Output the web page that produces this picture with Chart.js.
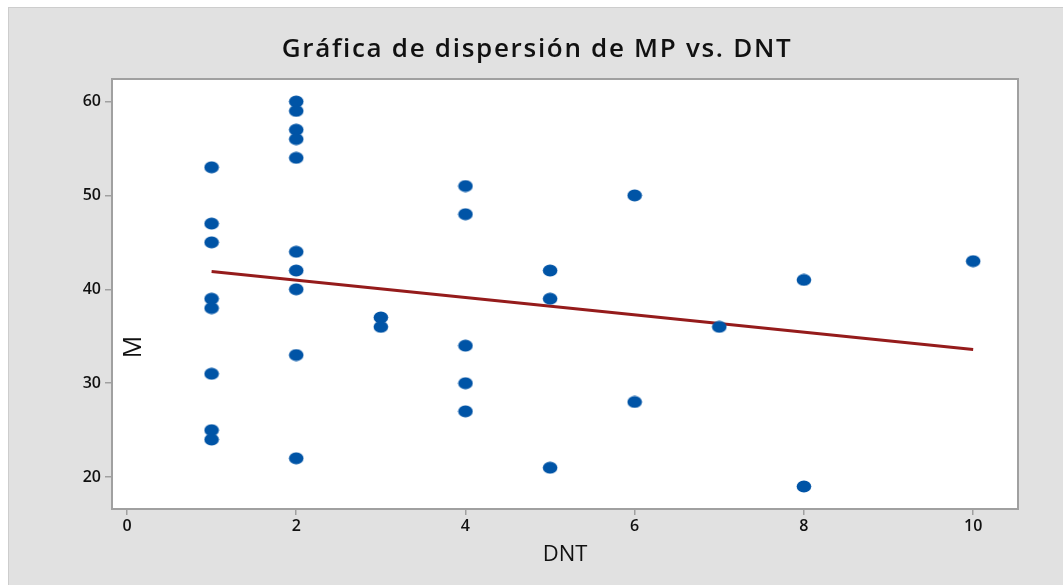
<!DOCTYPE html>
<html>
<head>
<meta charset="utf-8">
<script src="https://cdn.jsdelivr.net/npm/chart.js@4/dist/chart.umd.min.js"></script>
<style>
  html, body { margin: 0; padding: 0; background: #ffffff; }
  #wrap { position: relative; width: 1063px; height: 585px; }
</style>
</head>
<body>
<div id="wrap"><canvas id="scatter"></canvas></div>
<script>
// values
var dntValues = [1, 1, 1, 1, 1, 1, 1, 1,
                 2, 2, 2, 2, 2, 2, 2, 2, 2, 2,
                 3, 3,
                 4, 4, 4, 4, 4,
                 5, 5, 5,
                 6, 6,
                 7,
                 8, 8,
                 10];
var mpValues  = [53, 47, 45, 39, 38, 31, 25, 24,
                 60, 59, 57, 56, 54, 44, 42, 40, 33, 22,
                 37, 36,
                 51, 48, 34, 30, 27,
                 42, 39, 21,
                 50, 28,
                 36,
                 41, 19,
                 43];
var fitX = [1, 10];
var fitY = [41.9, 33.6];
var xTicks = [0, 2, 4, 6, 8, 10];
var yTicks = [20, 30, 40, 50, 60];
var chartTitle = 'Gráfica de dispersión de MP vs. DNT';
var xTitle = 'DNT';
var yTitle = 'M';

var FONT = "'Open Sans', 'Noto Sans', sans-serif";
var POINT_BLUE = '#0054a6';
var FIT_RED = '#951b1b';
var FRAME_GRAY = '#a0a0a0';

// ellipse marker, a bit wider than tall like the original
var makeMarker = function makeMarker() {
   var c = document.createElement('canvas');
   c.width = 16;
   c.height = 13;
   var g = c.getContext('2d');
   g.fillStyle = POINT_BLUE;
   g.beginPath();
   g.ellipse(8, 6.5, 7.3, 6.1, 0, 0, Math.PI * 2);
   g.fill();
   return c;
};

var scatterPoints = dntValues.map((x, i) => ({x: x, y: mpValues[i]}));
var fitPoints = fitX.map((x, i) => ({x: x, y: fitY[i]}));

var frame = {
   id: 'frame',
   beforeDraw: function(chart) {
      var ctx = chart.ctx;
      var a = chart.chartArea;
      ctx.save();
      ctx.fillStyle = '#ffffff';
      ctx.fillRect(0, 0, chart.width, chart.height);
      ctx.fillStyle = '#e1e1e1';
      ctx.fillRect(8, 7, chart.width - 8, chart.height - 7);
      ctx.fillStyle = '#cdcdcd';
      ctx.fillRect(8, 7, chart.width - 8, 1);
      ctx.fillRect(8, 7, 1, chart.height - 7);
      ctx.fillStyle = '#ffffff';
      ctx.fillRect(a.left, a.top, a.right - a.left, a.bottom - a.top);
      ctx.restore();
   },
   beforeDatasetsDraw: function(chart) {
      var ctx = chart.ctx;
      var a = chart.chartArea;
      ctx.save();
      ctx.strokeStyle = FRAME_GRAY;
      ctx.lineWidth = 2;
      ctx.strokeRect(a.left, a.top, a.right - a.left, a.bottom - a.top);
      ctx.restore();
   },
   afterDraw: function(chart) {
      var ctx = chart.ctx;
      var a = chart.chartArea;
      ctx.save();
      // title, a little off-centre and spaced out like the original
      ctx.font = '600 26px ' + FONT;
      ctx.fillStyle = '#111111';
      ctx.textAlign = 'center';
      ctx.textBaseline = 'alphabetic';
      ctx.letterSpacing = '1.7px';
      ctx.fillText(chartTitle, 537, 57);
      ctx.letterSpacing = '0px';
      // the y label sits inside the plot area in the original
      ctx.translate(a.left + 22, a.top + 268);
      ctx.rotate(-Math.PI / 2);
      ctx.font = '25px ' + FONT;
      ctx.textBaseline = 'middle';
      ctx.fillText(yTitle, 0, 0);
      ctx.restore();
   }
};

var chartConfig = {
   type: 'scatter',
   data: {
      datasets: [{
         label: 'MP',
         data: scatterPoints,
         pointStyle: makeMarker(),
         pointRadius: 7,
         pointHoverRadius: 7,
         backgroundColor: POINT_BLUE,
         borderColor: POINT_BLUE,
         order: 1
      }, {
         label: 'ajuste',
         type: 'line',
         data: fitPoints,
         borderColor: FIT_RED,
         borderWidth: 3,
         pointRadius: 0,
         fill: false,
         order: 2
      }]
   },
   options: {
      responsive: true,
      maintainAspectRatio: false,
      animation: false,
      layout: {
         padding: {top: 79, right: 45, bottom: 0, left: 0}
      },
      scales: {
         x: {
            type: 'linear',
            min: -0.177,
            max: 10.53,
            afterBuildTicks: scale => { scale.ticks = xTicks.map(v => ({value: v})); },
            afterFit: scale => { scale.height = 76; },
            ticks: {
               font: {family: FONT, size: 16, weight: 600},
               color: '#111111',
               padding: 2,
               maxRotation: 0
            },
            grid: {
               drawOnChartArea: false,
               drawTicks: true,
               tickLength: 6,
               color: FRAME_GRAY,
               lineWidth: 1.5
            },
            border: {color: FRAME_GRAY, width: 2},
            title: {
               display: true,
               text: xTitle,
               font: {family: FONT, size: 22},
               color: '#111111',
               padding: {top: 0, bottom: 17}
            }
         },
         y: {
            type: 'linear',
            min: 16.6,
            max: 62.4,
            afterBuildTicks: scale => { scale.ticks = yTicks.map(v => ({value: v})); },
            afterFit: scale => { scale.width = 112; },
            ticks: {
               font: {family: FONT, size: 16, weight: 600},
               color: '#111111',
               padding: 4
            },
            grid: {
               drawOnChartArea: false,
               drawTicks: true,
               tickLength: 7,
               color: FRAME_GRAY,
               lineWidth: 1.5
            },
            border: {color: FRAME_GRAY, width: 2}
         }
      },
      plugins: {
         legend: {display: false},
         tooltip: {enabled: false},
         title: {display: false}
      }
   },
   plugins: [frame]
};

new Chart(document.getElementById('scatter'), chartConfig);
</script>
</body>
</html>
